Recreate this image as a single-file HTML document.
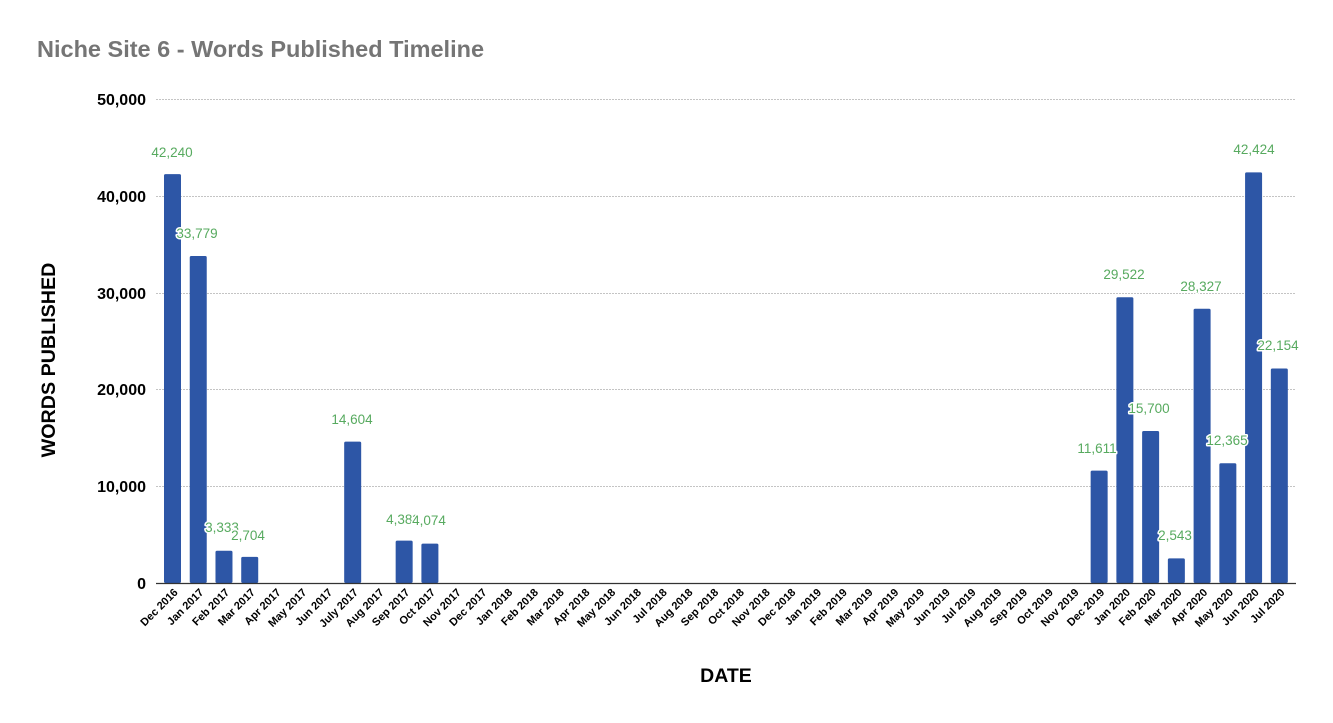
<!DOCTYPE html>
<html><head><meta charset="utf-8"><style>
body{margin:0;background:#fff}
svg{display:block;font-family:"Liberation Sans",Arial,sans-serif}
.g{stroke:#c4c4c4;stroke-width:1;stroke-dasharray:2,1}
.yl{font-size:16px;font-weight:bold;fill:#000;text-anchor:end}
.xl{font-size:11px;font-weight:bold;fill:#000;text-anchor:end}
.dl{font-size:13.5px;fill:#57aa5f;text-anchor:middle;stroke:#fff;stroke-width:3;paint-order:stroke;stroke-linejoin:round}
</style></head><body>
<svg width="1333" height="723" viewBox="0 0 1333 723">
<rect width="1333" height="723" fill="#fff"/>
<text x="37" y="57" font-size="23.5" font-weight="bold" fill="#757575">Niche Site 6 - Words Published Timeline</text>
<line class="g" x1="156" x2="1296" y1="99.5" y2="99.5"/>
<line class="g" x1="156" x2="1296" y1="196.5" y2="196.5"/>
<line class="g" x1="156" x2="1296" y1="293.5" y2="293.5"/>
<line class="g" x1="156" x2="1296" y1="389.5" y2="389.5"/>
<line class="g" x1="156" x2="1296" y1="486.5" y2="486.5"/>
<text class="yl" x="146" y="105">50,000</text>
<text class="yl" x="146" y="202">40,000</text>
<text class="yl" x="146" y="299">30,000</text>
<text class="yl" x="146" y="395">20,000</text>
<text class="yl" x="146" y="492">10,000</text>
<text class="yl" x="146" y="589">0</text>
<g id="bars" fill="#2d56a6"></g>
<line x1="156" x2="1296" y1="583.5" y2="583.5" stroke="#333" stroke-width="1.2"/>
<g id="xl"></g>
<g id="dl"></g>
<text x="55" y="360" font-size="19.7" font-weight="bold" text-anchor="middle" transform="rotate(-90 55 360)">WORDS PUBLISHED</text>
<text x="726" y="682" font-size="19.5" font-weight="bold" text-anchor="middle">DATE</text>
</svg>
<script>
var labels=["Dec 2016","Jan 2017","Feb 2017","Mar 2017","Apr 2017","May 2017","Jun 2017","July 2017","Aug 2017","Sep 2017","Oct 2017","Nov 2017","Dec 2017","Jan 2018","Feb 2018","Mar 2018","Apr 2018","May 2018","Jun 2018","Jul 2018","Aug 2018","Sep 2018","Oct 2018","Nov 2018","Dec 2018","Jan 2019","Feb 2019","Mar 2019","Apr 2019","May 2019","Jun 2019","Jul 2019","Aug 2019","Sep 2019","Oct 2019","Nov 2019","Dec 2019","Jan 2020","Feb 2020","Mar 2020","Apr 2020","May 2020","Jun 2020","Jul 2020"];
var vals={0:42240,1:33779,2:3333,3:2704,7:14604,9:4383,10:4074,36:11611,37:29522,38:15700,39:2543,40:28327,41:12365,42:42424,43:22154};
var pos={0:[172,157],1:[197,238],2:[222,532],3:[248,540],7:[352,424],9:[403,524],10:[429,525],36:[1097,453],37:[1124,279],38:[1149,413],39:[1175,540],40:[1201,291],41:[1227,445],42:[1254,154],43:[1278,350]};
var ns="http://www.w3.org/2000/svg",b=document.getElementById("bars"),x=document.getElementById("xl"),d=document.getElementById("dl");
for(var i=0;i<44;i++){var c=172.5+i*25.74;
 var t=document.createElementNS(ns,"text");t.setAttribute("class","xl");t.setAttribute("x",c+6);t.setAttribute("y",593);t.setAttribute("transform","rotate(-45 "+(c+6)+" 593)");t.textContent=labels[i];x.appendChild(t);
 if(vals[i]!==undefined){var h=vals[i]*484/50000;var r=document.createElementNS(ns,"rect");r.setAttribute("x",c-8.5);r.setAttribute("y",583-h);r.setAttribute("width",17);r.setAttribute("height",h);r.setAttribute("rx",1.5);b.appendChild(r);
 var l=document.createElementNS(ns,"text");l.setAttribute("class","dl");l.setAttribute("x",pos[i][0]);l.setAttribute("y",pos[i][1]);l.textContent=vals[i].toLocaleString("en-US");d.appendChild(l);}
}
</script>
</body></html>
